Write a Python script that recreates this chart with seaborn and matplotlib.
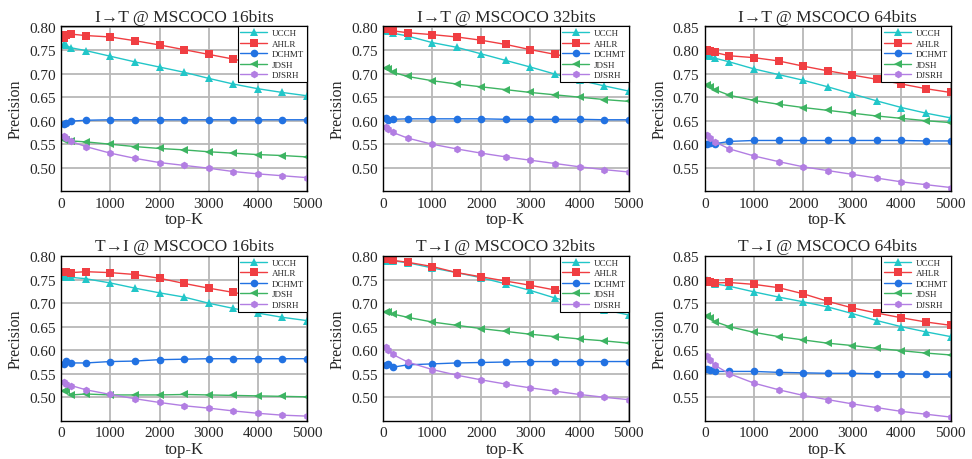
import pandas as pd
import matplotlib
matplotlib.use("Agg")
import matplotlib.pyplot as plt
import seaborn as sns

# top-K positions
topk = [50, 100, 200, 500, 1000, 1500, 2000, 2500, 3000, 3500, 4000, 4500, 5000]
methods = ["UCCH", "AHLR", "DCHMT", "JDSH", "DJSRH"]

# I->T 16 bits
it16_ucch = [0.762, 0.760, 0.755, 0.749, 0.737, 0.725, 0.714, 0.703, 0.690, 0.678, 0.668, 0.660, 0.653]
it16_ahlr = [0.775, 0.783, 0.784, 0.781, 0.778, 0.770, 0.761, 0.751, 0.741, 0.731, 0.720, 0.708, 0.700]
it16_dchmt = [0.592, 0.596, 0.599, 0.601, 0.602, 0.602, 0.602, 0.602, 0.602, 0.602, 0.602, 0.602, 0.602]
it16_jdsh = [0.560, 0.558, 0.557, 0.555, 0.550, 0.545, 0.541, 0.538, 0.534, 0.531, 0.528, 0.526, 0.523]
it16_djsrh = [0.568, 0.563, 0.556, 0.545, 0.531, 0.520, 0.511, 0.505, 0.499, 0.492, 0.487, 0.483, 0.479]

# I->T 32 bits
it32_ucch = [0.792, 0.790, 0.786, 0.780, 0.766, 0.756, 0.742, 0.728, 0.714, 0.699, 0.686, 0.674, 0.663]
it32_ahlr = [0.797, 0.795, 0.791, 0.787, 0.783, 0.778, 0.771, 0.762, 0.751, 0.741, 0.731, 0.720, 0.710]
it32_dchmt = [0.605, 0.601, 0.603, 0.604, 0.604, 0.604, 0.604, 0.603, 0.603, 0.603, 0.603, 0.602, 0.602]
it32_jdsh = [0.712, 0.710, 0.703, 0.694, 0.685, 0.678, 0.672, 0.666, 0.660, 0.655, 0.650, 0.645, 0.641]
it32_djsrh = [0.587, 0.583, 0.575, 0.563, 0.550, 0.540, 0.531, 0.523, 0.516, 0.509, 0.502, 0.496, 0.491]

# I->T 64 bits
it64_ucch = [0.790, 0.788, 0.783, 0.775, 0.760, 0.748, 0.736, 0.722, 0.707, 0.692, 0.678, 0.666, 0.656]
it64_ahlr = [0.800, 0.799, 0.795, 0.788, 0.784, 0.777, 0.766, 0.756, 0.747, 0.738, 0.728, 0.718, 0.710]
it64_dchmt = [0.601, 0.602, 0.601, 0.606, 0.608, 0.608, 0.608, 0.608, 0.608, 0.608, 0.608, 0.607, 0.607]
it64_jdsh = [0.726, 0.722, 0.716, 0.704, 0.693, 0.685, 0.678, 0.672, 0.666, 0.660, 0.655, 0.650, 0.646]
it64_djsrh = [0.620, 0.614, 0.605, 0.590, 0.575, 0.563, 0.552, 0.544, 0.536, 0.528, 0.520, 0.514, 0.508]

# T->I 16 bits
ti16_ucch = [0.757, 0.756, 0.755, 0.752, 0.743, 0.732, 0.722, 0.713, 0.700, 0.689, 0.679, 0.670, 0.663]
ti16_ahlr = [0.766, 0.766, 0.765, 0.767, 0.765, 0.761, 0.753, 0.742, 0.732, 0.723, 0.713, 0.705, 0.698]
ti16_dchmt = [0.571, 0.577, 0.573, 0.573, 0.576, 0.577, 0.580, 0.581, 0.582, 0.582, 0.582, 0.582, 0.582]
ti16_jdsh = [0.513, 0.515, 0.505, 0.507, 0.505, 0.505, 0.505, 0.506, 0.505, 0.504, 0.503, 0.502, 0.501]
ti16_djsrh = [0.533, 0.529, 0.525, 0.516, 0.506, 0.497, 0.489, 0.482, 0.477, 0.471, 0.466, 0.462, 0.460]

# T->I 32 bits
ti32_ucch = [0.790, 0.791, 0.790, 0.786, 0.775, 0.765, 0.754, 0.741, 0.727, 0.711, 0.698, 0.686, 0.675]
ti32_ahlr = [0.795, 0.793, 0.791, 0.787, 0.778, 0.765, 0.756, 0.747, 0.738, 0.728, 0.718, 0.712, 0.706]
ti32_dchmt = [0.569, 0.570, 0.564, 0.569, 0.571, 0.573, 0.574, 0.575, 0.576, 0.576, 0.576, 0.576, 0.576]
ti32_jdsh = [0.682, 0.681, 0.677, 0.670, 0.660, 0.653, 0.646, 0.640, 0.634, 0.629, 0.624, 0.620, 0.615]
ti32_djsrh = [0.607, 0.601, 0.591, 0.575, 0.559, 0.547, 0.537, 0.528, 0.520, 0.513, 0.506, 0.500, 0.495]

# T->I 64 bits
ti64_ucch = [0.800, 0.795, 0.791, 0.786, 0.774, 0.763, 0.753, 0.742, 0.728, 0.713, 0.700, 0.689, 0.679]
ti64_ahlr = [0.797, 0.795, 0.793, 0.794, 0.790, 0.783, 0.770, 0.754, 0.740, 0.729, 0.719, 0.710, 0.703]
ti64_dchmt = [0.610, 0.607, 0.605, 0.605, 0.605, 0.603, 0.602, 0.601, 0.601, 0.600, 0.600, 0.599, 0.599]
ti64_jdsh = [0.722, 0.718, 0.711, 0.700, 0.688, 0.679, 0.672, 0.665, 0.660, 0.654, 0.649, 0.644, 0.640]
ti64_djsrh = [0.638, 0.630, 0.618, 0.600, 0.580, 0.566, 0.554, 0.545, 0.536, 0.528, 0.520, 0.514, 0.508]

panels = [
    ("I\u2192T @ MSCOCO 16bits", [it16_ucch, it16_ahlr, it16_dchmt, it16_jdsh, it16_djsrh], 0.45, 0.80),
    ("I\u2192T @ MSCOCO 32bits", [it32_ucch, it32_ahlr, it32_dchmt, it32_jdsh, it32_djsrh], 0.45, 0.80),
    ("I\u2192T @ MSCOCO 64bits", [it64_ucch, it64_ahlr, it64_dchmt, it64_jdsh, it64_djsrh], 0.50, 0.85),
    ("T\u2192I @ MSCOCO 16bits", [ti16_ucch, ti16_ahlr, ti16_dchmt, ti16_jdsh, ti16_djsrh], 0.45, 0.80),
    ("T\u2192I @ MSCOCO 32bits", [ti32_ucch, ti32_ahlr, ti32_dchmt, ti32_jdsh, ti32_djsrh], 0.45, 0.80),
    ("T\u2192I @ MSCOCO 64bits", [ti64_ucch, ti64_ahlr, ti64_dchmt, ti64_jdsh, ti64_djsrh], 0.50, 0.85),
]

palette = {"UCCH": "#22c6c8", "AHLR": "#f03e42", "DCHMT": "#2272e2", "JDSH": "#3db462", "DJSRH": "#b27ee2"}
markers = {"UCCH": "^", "AHLR": "s", "DCHMT": "o", "JDSH": "<", "DJSRH": "h"}

sns.set_style("whitegrid", {"axes.edgecolor": "black", "grid.color": "#b8b8b8"})
plt.rcParams["font.family"] = ["Liberation Serif", "DejaVu Serif"]

fig, axes = plt.subplots(2, 3, figsize=(9.72, 4.6), dpi=100)
fig.subplots_adjust(left=0.063, right=0.978, top=0.941, bottom=0.083, wspace=0.31, hspace=0.39)

for ax, (title, series, ylo, yhi) in zip(axes.flat, panels):
    rows = []
    for m, vals in zip(methods, series):
        for k, v in zip(topk, vals):
            rows.append({"top-K": k, "Precision": v, "method": m})
    df = pd.DataFrame(rows)
    sns.lineplot(data=df, x="top-K", y="Precision", hue="method", style="method",
                 hue_order=methods, style_order=methods, palette=palette,
                 markers=markers, dashes=False, markersize=5.5, markeredgewidth=0,
                 linewidth=1.0, ax=ax)
    ax.set_xlim(0, 5000)
    ax.set_ylim(ylo, yhi + 0.001)
    ax.set_xticks([0, 1000, 2000, 3000, 4000, 5000])
    yt = [round(ylo + 0.05 * i, 2) for i in range(1, 8)]
    ax.set_yticks(yt)
    ax.set_yticklabels([f"{t:.2f}" for t in yt])
    ax.tick_params(labelsize=11, length=0, pad=4)
    ax.grid(True, color="#b8b8b8", linewidth=1.3)
    for s in ax.spines.values():
        s.set_color("black")
        s.set_linewidth(1.0)
    ax.set_title(title, fontsize=12.5, pad=4)
    ax.set_xlabel("top-K", fontsize=12, labelpad=1)
    ax.set_ylabel("Precision", fontsize=11.5, labelpad=4)
    leg = ax.legend(loc="upper right", fontsize=6.5, frameon=True, fancybox=False,
                    borderaxespad=0, handlelength=3.0, labelspacing=0.25,
                    borderpad=0.3, handletextpad=0.5)
    leg.get_frame().set_edgecolor("black")
    leg.get_frame().set_linewidth(0.8)
    leg.get_frame().set_alpha(1)

fig.savefig("out.png", dpi=100)
